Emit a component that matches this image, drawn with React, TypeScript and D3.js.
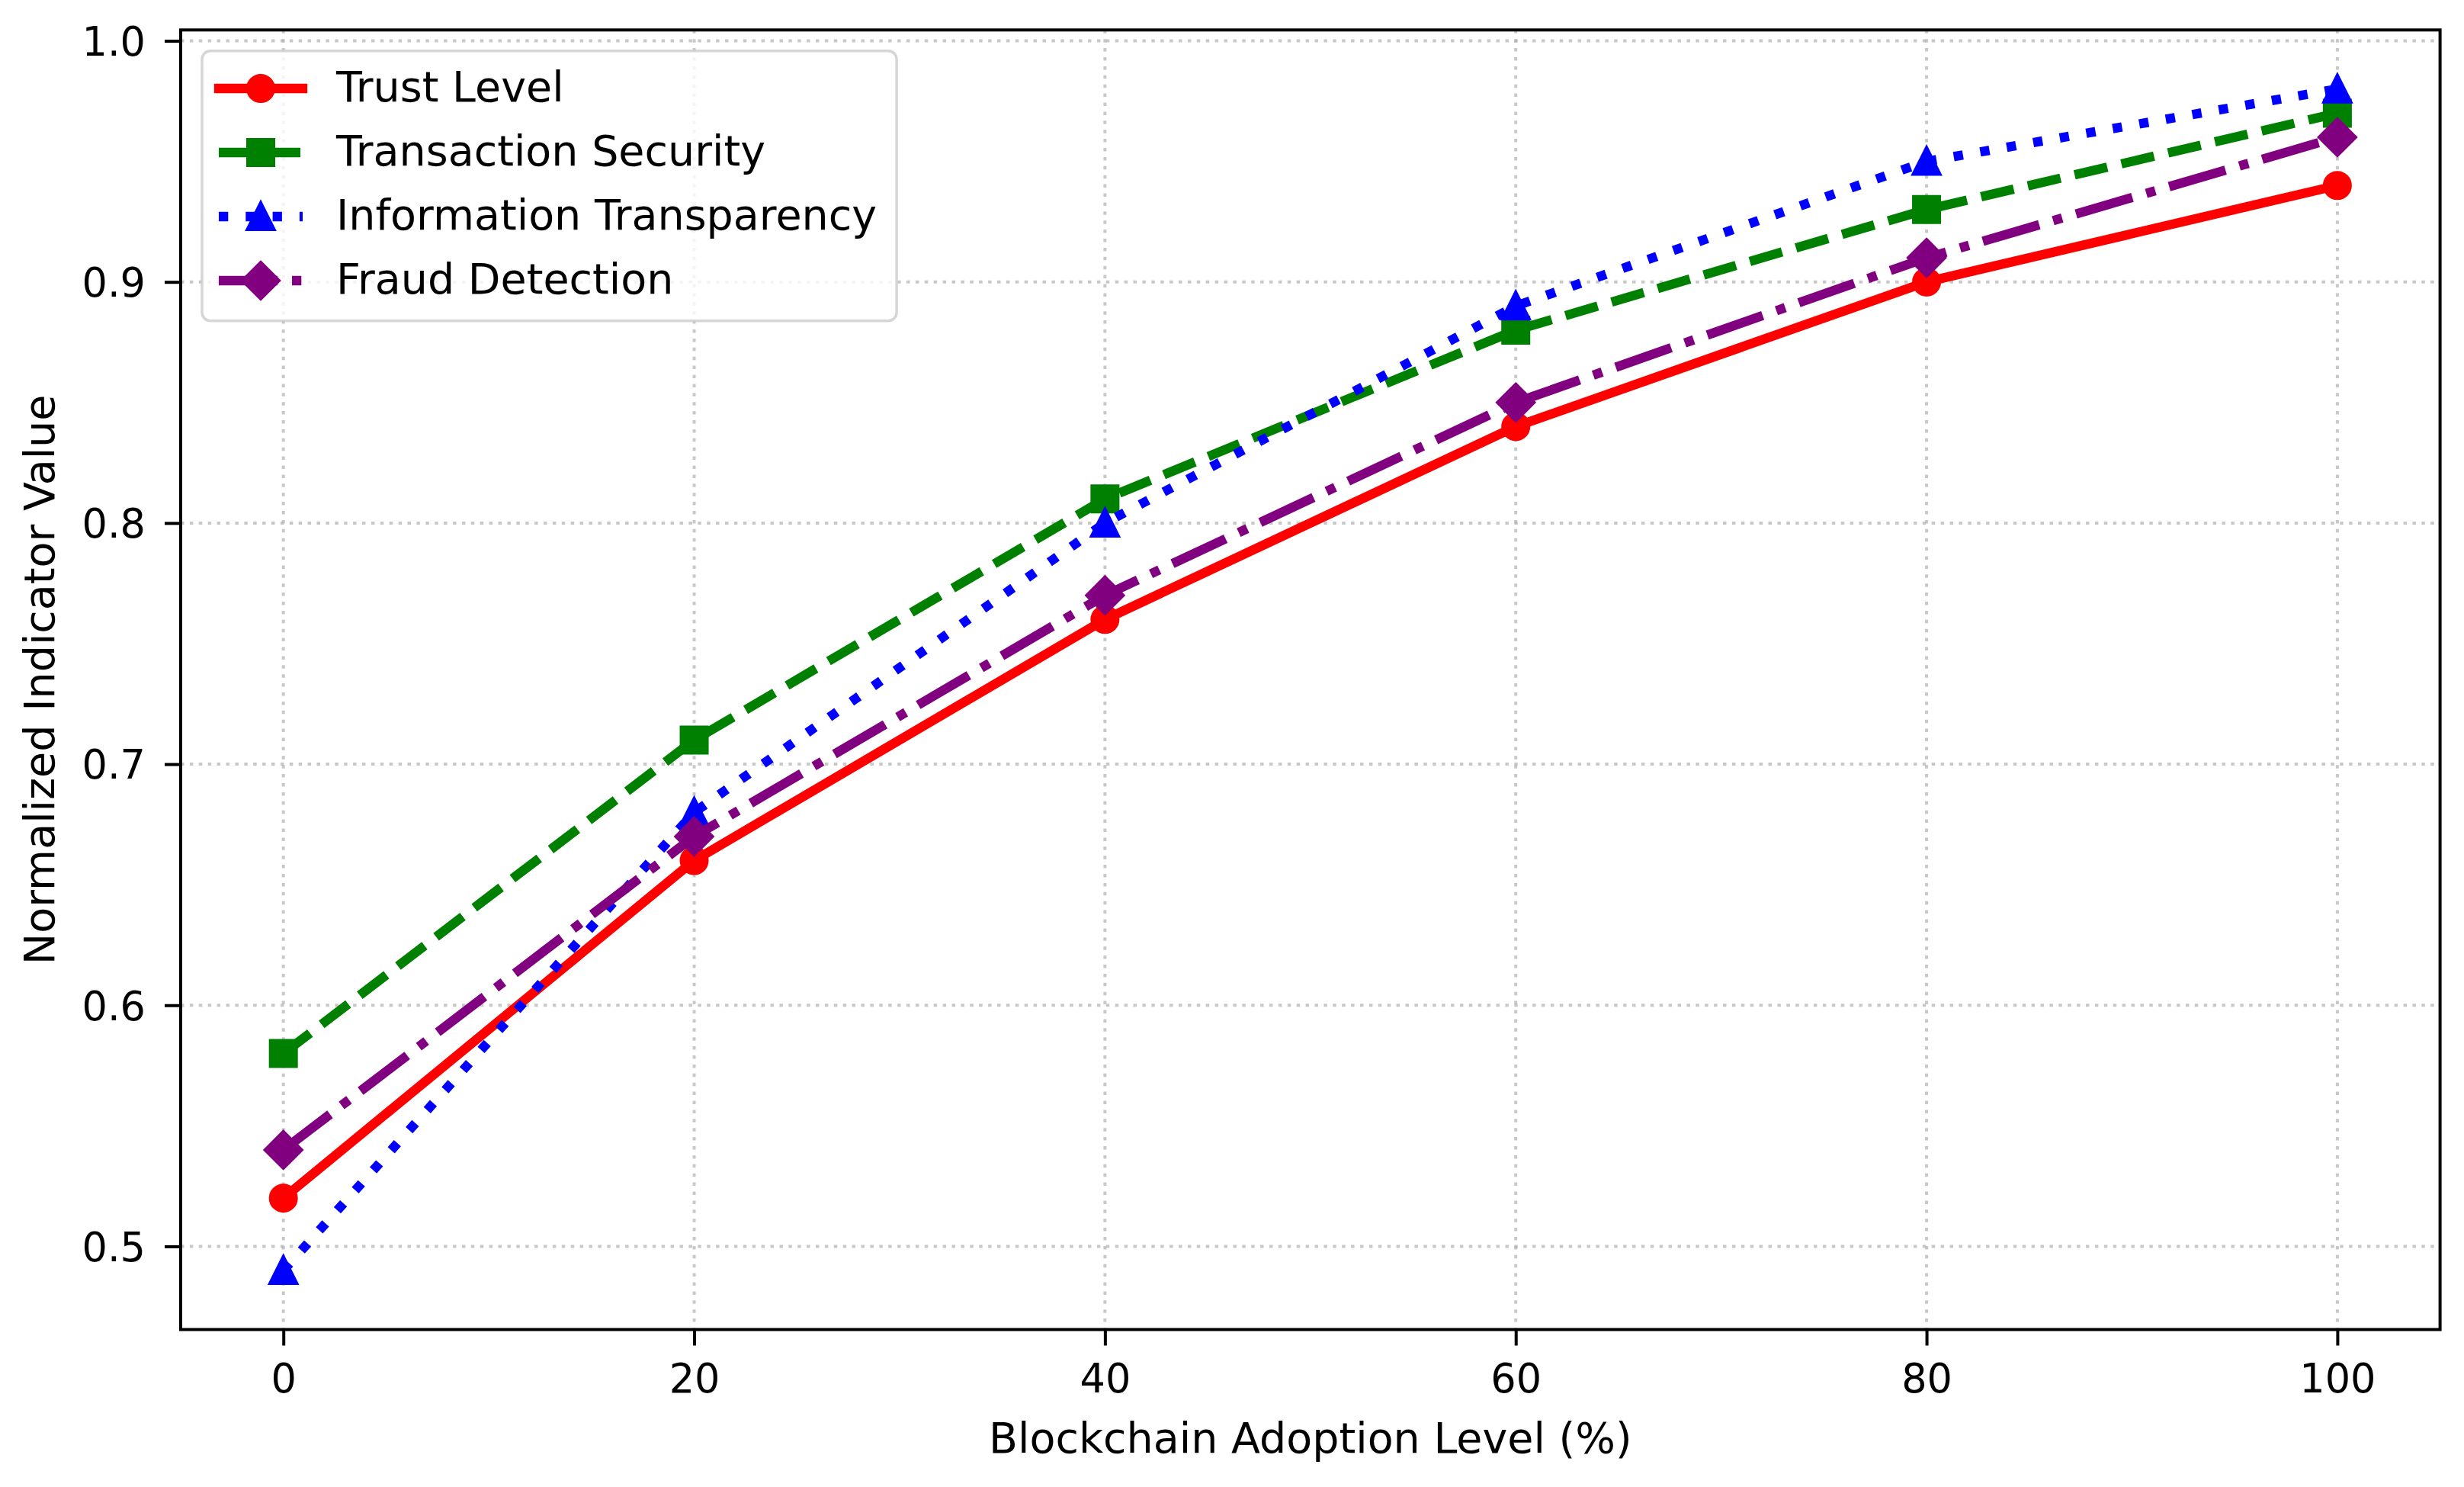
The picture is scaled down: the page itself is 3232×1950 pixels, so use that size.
import { useEffect, useRef } from 'react';
import * as d3 from 'd3';

// Data
const adoptionLevels = [0, 20, 40, 60, 80, 100];
const trustLevel = [0.52, 0.66, 0.76, 0.84, 0.90, 0.94];
const transactionSecurity = [0.58, 0.71, 0.81, 0.88, 0.93, 0.97];
const informationTransparency = [0.49, 0.68, 0.80, 0.89, 0.95, 0.98];
const fraudDetection = [0.54, 0.67, 0.77, 0.85, 0.91, 0.96];
const seriesNames = ['Trust Level', 'Transaction Security', 'Information Transparency', 'Fraud Detection'];
const xTicks = [0, 20, 40, 60, 80, 100];
const yTicks = [0.5, 0.6, 0.7, 0.8, 0.9, 1.0];

const xLabel = 'Blockchain Adoption Level (%)';
const yLabel = 'Normalized Indicator Value';

type MarkerKind = 'circle' | 'square' | 'triangle' | 'diamond';

interface SeriesStyle {
  color: string;
  dash: string | null;
  marker: MarkerKind;
}

const styles: SeriesStyle[] = [
  { color: '#ff0000', dash: null, marker: 'circle' },
  { color: '#008000', dash: '44,19', marker: 'square' },
  { color: '#0000ff', dash: '12.3,23', marker: 'triangle' },
  { color: '#800080', dash: '77,19,12.3,19', marker: 'diamond' }
];

const WIDTH = 3232;
const HEIGHT = 1950;
const FONT = '"DejaVu Sans", Verdana, sans-serif';
const LINE_W = 12.3;
const MS = 32; // marker size, px
const MEW = 6; // marker edge width, px

function markerPath(kind: MarkerKind): string {
  const h = MS / 2;
  switch (kind) {
    case 'circle':
      return d3.symbol(d3.symbolCircle, Math.PI * h * h)() || '';
    case 'square':
      return `M${-h},${-h}L${h},${-h}L${h},${h}L${-h},${h}Z`;
    case 'triangle':
      return `M0,${-h}L${h},${h}L${-h},${h}Z`;
    case 'diamond': {
      const d = h * Math.SQRT2;
      return `M0,${-d}L${d},0L0,${d}L${-d},0Z`;
    }
  }
}

const Chart: React.FC = () => {
  const svgRef = useRef<SVGSVGElement>(null);

  useEffect(() => {
    if (!svgRef.current) return;
    const root = d3.select(svgRef.current);
    root.selectAll('*').remove();

    const margin = { top: 39.3, right: WIDTH - 3200.6, bottom: HEIGHT - 1743.5, left: 237 };
    const innerWidth = WIDTH - margin.left - margin.right;
    const innerHeight = HEIGHT - margin.top - margin.bottom;

    const allSeries = [trustLevel, transactionSecurity, informationTransparency, fraudDetection];

    // matplotlib-style 5% margins
    const xExt = d3.extent(adoptionLevels) as [number, number];
    const yExt = [d3.min(allSeries, s => d3.min(s)) || 0, d3.max(allSeries, s => d3.max(s)) || 1];
    const xPad = (xExt[1] - xExt[0]) * 0.05;
    const yPad = (yExt[1] - yExt[0]) * 0.05;

    const xScale = d3.scaleLinear()
      .domain([xExt[0] - xPad, xExt[1] + xPad])
      .range([0, innerWidth]);

    const yScale = d3.scaleLinear()
      .domain([yExt[0] - yPad, yExt[1] + yPad])
      .range([innerHeight, 0]);

    root.append('rect')
      .attr('width', WIDTH)
      .attr('height', HEIGHT)
      .attr('fill', '#ffffff');

    const svg = root.append('g')
      .attr('transform', `translate(${margin.left}, ${margin.top})`);

    // Grid (dotted)
    const grid = svg.append('g')
      .attr('stroke', '#b0b0b0')
      .attr('stroke-opacity', 0.7)
      .attr('stroke-width', 4)
      .attr('stroke-dasharray', '4.5,7.4');

    grid.selectAll('line.vx')
      .data(xTicks)
      .join('line')
      .attr('class', 'vx')
      .attr('x1', d => xScale(d))
      .attr('x2', d => xScale(d))
      .attr('y1', 0)
      .attr('y2', innerHeight);

    grid.selectAll('line.hy')
      .data(yTicks)
      .join('line')
      .attr('class', 'hy')
      .attr('x1', 0)
      .attr('x2', innerWidth)
      .attr('y1', d => yScale(d))
      .attr('y2', d => yScale(d));

    // Lines + markers
    const line = d3.line<number>()
      .x((_, i) => xScale(adoptionLevels[i]))
      .y(d => yScale(d));

    allSeries.forEach((values, si) => {
      const st = styles[si];
      svg.append('path')
        .datum(values)
        .attr('d', line)
        .attr('fill', 'none')
        .attr('stroke', st.color)
        .attr('stroke-width', LINE_W)
        .attr('stroke-linejoin', 'round')
        .attr('stroke-linecap', st.dash ? 'butt' : 'square')
        .attr('stroke-dasharray', st.dash);

      svg.append('g')
        .selectAll('path')
        .data(values)
        .join('path')
        .attr('transform', (d, i) => `translate(${xScale(adoptionLevels[i])}, ${yScale(d)})`)
        .attr('d', markerPath(st.marker))
        .attr('fill', st.color)
        .attr('stroke', st.color)
        .attr('stroke-width', MEW)
        .attr('stroke-linejoin', st.marker === 'circle' ? 'round' : 'miter');
    });

    // X axis
    const xAxis = svg.append('g')
      .attr('transform', `translate(0, ${innerHeight})`)
      .call(d3.axisBottom(xScale)
        .tickValues(xTicks)
        .tickFormat(d3.format('d'))
        .tickSizeInner(21)
        .tickSizeOuter(0)
        .tickPadding(24));
    xAxis.select('.domain').remove();
    xAxis.selectAll('line').attr('stroke', '#000').attr('stroke-width', 4);
    xAxis.selectAll('text')
      .attr('font-size', '52.5px')
      .attr('font-family', FONT)
      .attr('fill', '#000');

    // Y axis
    const yAxis = svg.append('g')
      .call(d3.axisLeft(yScale)
        .tickValues(yTicks)
        .tickFormat(d3.format('.1f'))
        .tickSizeInner(21)
        .tickSizeOuter(0)
        .tickPadding(25));
    yAxis.select('.domain').remove();
    yAxis.selectAll('line').attr('stroke', '#000').attr('stroke-width', 4);
    yAxis.selectAll('text')
      .attr('font-size', '52.5px')
      .attr('font-family', FONT)
      .attr('fill', '#000')
      .attr('dy', '0.36em');

    // Spines
    svg.append('rect')
      .attr('width', innerWidth)
      .attr('height', innerHeight)
      .attr('fill', 'none')
      .attr('stroke', '#000')
      .attr('stroke-width', 4);

    // Axis labels
    root.append('text')
      .attr('x', margin.left + innerWidth / 2)
      .attr('y', 1905)
      .attr('text-anchor', 'middle')
      .attr('font-size', '55.5px')
      .attr('font-family', FONT)
      .attr('fill', '#000')
      .text(xLabel);

    root.append('text')
      .attr('transform', `translate(71, ${margin.top + innerHeight / 2}) rotate(-90)`)
      .attr('text-anchor', 'middle')
      .attr('font-size', '55.5px')
      .attr('font-family', FONT)
      .attr('fill', '#000')
      .text(yLabel);

    // Legend
    const fs = 55.5;
    const legend = root.append('g')
      .attr('transform', 'translate(265, 66.7)');

    const frame = legend.append('rect')
      .attr('height', 354)
      .attr('rx', 11)
      .attr('fill', '#ffffff')
      .attr('fill-opacity', 0.8)
      .attr('stroke', '#cccccc')
      .attr('stroke-opacity', 0.8)
      .attr('stroke-width', 3.5);

    const hx0 = 22;
    const hx1 = hx0 + 2 * 55;
    const rowY = (i: number) => 49.3 + i * 84;

    let maxRight = 0;
    seriesNames.forEach((name, i) => {
      const st = styles[i];
      const y = rowY(i);
      legend.append('line')
        .attr('x1', hx0)
        .attr('x2', hx1)
        .attr('y1', y)
        .attr('y2', y)
        .attr('stroke', st.color)
        .attr('stroke-width', LINE_W)
        .attr('stroke-linecap', st.dash ? 'butt' : 'square')
        .attr('stroke-dasharray', st.dash);
      legend.append('path')
        .attr('transform', `translate(${(hx0 + hx1) / 2}, ${y})`)
        .attr('d', markerPath(st.marker))
        .attr('fill', st.color)
        .attr('stroke', st.color)
        .attr('stroke-width', MEW)
        .attr('stroke-linejoin', st.marker === 'circle' ? 'round' : 'miter');
      const t = legend.append('text')
        .attr('x', hx1 + 44)
        .attr('y', y + 17)
        .attr('font-size', `${fs}px`)
        .attr('font-family', FONT)
        .attr('fill', '#000')
        .text(name);
      const node = t.node() as SVGTextElement | null;
      const w = node ? node.getComputedTextLength() : 0;
      maxRight = Math.max(maxRight, hx1 + 44 + w);
    });
    frame.attr('width', maxRight + 26);
  }, []);

  return (
    <svg
      ref={svgRef}
      width={WIDTH}
      height={HEIGHT}
      style={{ position: 'absolute', left: 0, top: 0, display: 'block' }}
    />
  );
};

export default function App() {
  return <Chart />;
}
